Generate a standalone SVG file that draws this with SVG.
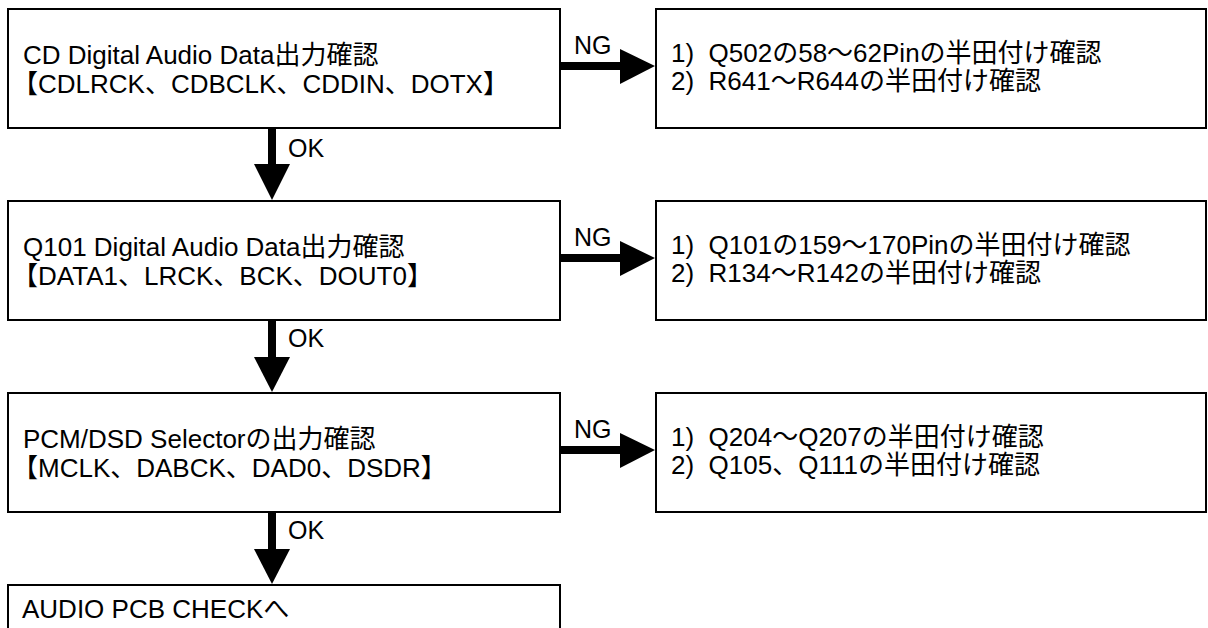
<svg xmlns="http://www.w3.org/2000/svg" width="1208" height="628" viewBox="0 0 1208 628">
<style>
.box{fill:#fff;stroke:#000;stroke-width:2}
.t{font-family:"Liberation Sans","Noto Sans CJK JP",sans-serif;font-size:26px;fill:#000}
.lbl{font-family:"Liberation Sans","Noto Sans CJK JP",sans-serif;font-size:25px;fill:#000}
.shaft{stroke:#000;stroke-width:8;fill:none}
.head{fill:#000}
</style>
<rect width="1208" height="628" fill="#fff"/>
<g id="n1"><rect class="box" x="8" y="9" width="552" height="119"/>
<text class="t" x="23" y="64">CD Digital Audio Data出力確認</text>
<text class="t" x="12" y="93">【CDLRCK、CDBCLK、CDDIN、DOTX】</text></g>
<g id="n2"><rect class="box" x="8" y="201" width="552" height="119"/>
<text class="t" x="23" y="256">Q101 Digital Audio Data出力確認</text>
<text class="t" x="12" y="285">【DATA1、LRCK、BCK、DOUT0】</text></g>
<g id="n3"><rect class="box" x="8" y="393" width="552" height="119"/>
<text class="t" x="23" y="448">PCM/DSD Selectorの出力確認</text>
<text class="t" x="12" y="477">【MCLK、DABCK、DAD0、DSDR】</text></g>
<g id="n4"><rect class="box" x="8" y="585" width="552" height="80"/>
<text class="t" x="22" y="618">AUDIO PCB CHECKへ</text></g>
<g id="r1"><rect class="box" x="656" y="9" width="550" height="119"/>
<text class="t" x="671" y="62" xml:space="preserve">1)  Q502の58〜62Pinの半田付け確認</text>
<text class="t" x="671" y="90" xml:space="preserve">2)  R641〜R644の半田付け確認</text></g>
<g id="r2"><rect class="box" x="656" y="201" width="550" height="119"/>
<text class="t" x="671" y="254" xml:space="preserve">1)  Q101の159〜170Pinの半田付け確認</text>
<text class="t" x="671" y="282" xml:space="preserve">2)  R134〜R142の半田付け確認</text></g>
<g id="r3"><rect class="box" x="656" y="393" width="550" height="119"/>
<text class="t" x="671" y="446" xml:space="preserve">1)  Q204〜Q207の半田付け確認</text>
<text class="t" x="671" y="474" xml:space="preserve">2)  Q105、Q111の半田付け確認</text></g>
<g id="connectors">
<line class="shaft" x1="272" y1="128" x2="272" y2="165"/><polygon class="head" points="254,164 290,164 272,200"/>
<text class="lbl" x="288" y="157">OK</text>
<line class="shaft" x1="272" y1="320" x2="272" y2="358"/><polygon class="head" points="254,357 290,357 272,392"/>
<text class="lbl" x="288" y="347">OK</text>
<line class="shaft" x1="272" y1="512" x2="272" y2="550"/><polygon class="head" points="254,549 290,549 272,584"/>
<text class="lbl" x="288" y="539">OK</text>
<line class="shaft" x1="560" y1="66" x2="621" y2="66"/><polygon class="head" points="620,49 620,84 655,66"/>
<text class="lbl" x="574" y="54">NG</text>
<line class="shaft" x1="560" y1="258" x2="621" y2="258"/><polygon class="head" points="620,241 620,276 655,258"/>
<text class="lbl" x="574" y="246">NG</text>
<line class="shaft" x1="560" y1="450" x2="621" y2="450"/><polygon class="head" points="620,433 620,468 655,450"/>
<text class="lbl" x="574" y="438">NG</text>
</g>
</svg>
